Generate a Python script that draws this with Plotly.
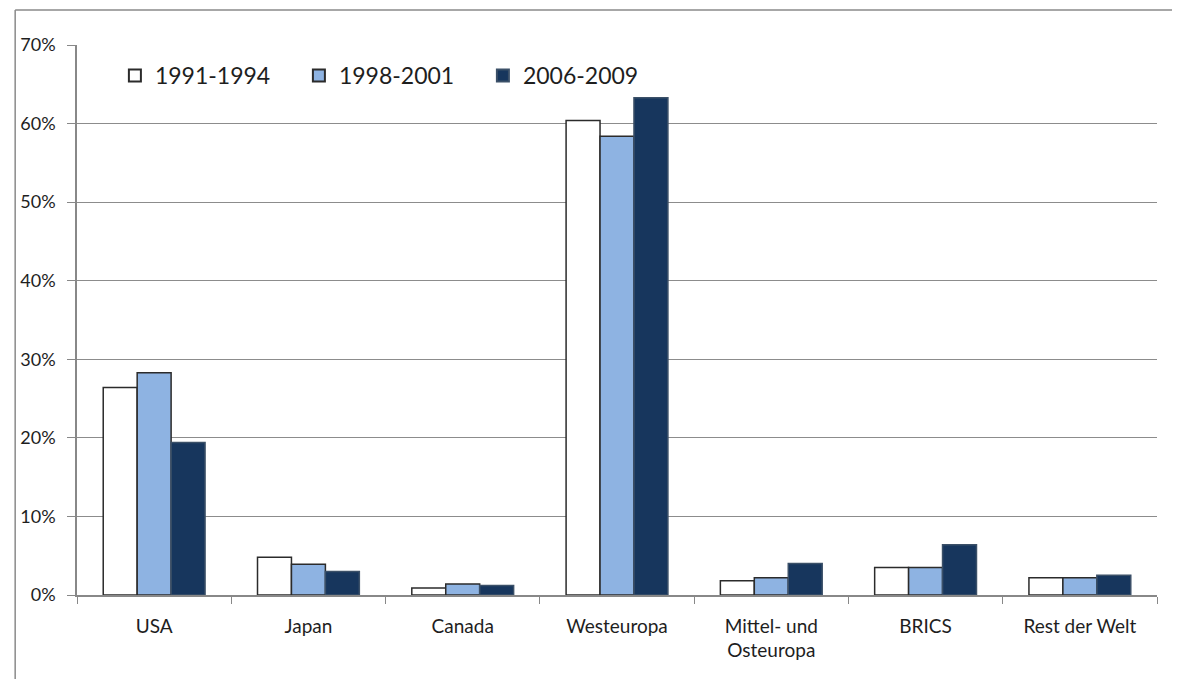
import plotly.graph_objects as go

categories = ["USA", "Japan", "Canada", "Westeuropa", "Mittel- und<br>Osteuropa", "BRICS", "Rest der Welt"]
series_names = ["1991-1994", "1998-2001", "2006-2009"]
v_1991 = [0.264, 0.048, 0.009, 0.604, 0.018, 0.035, 0.022]
v_1998 = [0.283, 0.039, 0.014, 0.584, 0.022, 0.035, 0.022]
v_2006 = [0.194, 0.030, 0.012, 0.633, 0.040, 0.064, 0.025]
y_ticks = [0, 0.1, 0.2, 0.3, 0.4, 0.5, 0.6, 0.7]

fills = ["#FFFFFF", "#8EB3E2", "#17365D"]
lines = ["#2b2b2b", "#2b2b2b", "#3b5068"]

fig = go.Figure()
for name, vals, fc, lc in zip(series_names, [v_1991, v_1998, v_2006], fills, lines):
    fig.add_trace(go.Bar(x=categories, y=vals, name=name,
                         marker=dict(color=fc, line=dict(color=lc, width=1.5))))

# page body has an 8px margin on every side; keep the figure inside the window
OFF = 8
W, H = 1180 - 2 * OFF, 687 - 2 * OFF
L, T = 74 - OFF, 45 - OFF
R = W - (1157 - OFF)
B = H - (595 - OFF)
pw, ph = W - L - R, H - T - B

def px(x):
    return (x - OFF - L) / pw

def py(y):
    return (H - B - (y - OFF)) / ph

fig.update_layout(
    width=W, height=H,
    margin=dict(l=L, r=R, t=T, b=B),
    paper_bgcolor="white", plot_bgcolor="white",
    barmode="group", bargap=0.34, bargroupgap=0,
    font=dict(family="Lato, Liberation Sans, sans-serif", size=19, color="#1e1e1e"),
    legend=dict(orientation="h", x=px(112), y=py(54), xanchor="left", yanchor="top",
                font=dict(size=23, color="#1e1e1e"), entrywidth=139, traceorder="normal",
                bgcolor="rgba(0,0,0,0)", itemsizing="constant"),
    xaxis=dict(type="category", showgrid=False, showline=True, linecolor="#888888", linewidth=1.5,
               ticks="outside", tickson="boundaries", ticklen=7, tickcolor="#888888",
               tickfont=dict(size=19), ticklabelstandoff=13),
    yaxis=dict(range=[0, 0.7], tickvals=y_ticks, tickformat=".0%", showgrid=True,
               gridcolor="#8c8c8c", gridwidth=1, showline=True, linecolor="#888888", linewidth=1.5,
               ticks="outside", ticklen=8, tickcolor="#888888", tickfont=dict(size=18),
               ticklabelstandoff=8, zeroline=False),
    shapes=[
        dict(type="line", xref="paper", yref="paper", x0=px(12), x1=px(1180), y0=py(10), y1=py(10),
             line=dict(color="#8a8a8a", width=1.5)),
        dict(type="line", xref="paper", yref="paper", x0=px(12), x1=px(12), y0=py(10), y1=py(687),
             line=dict(color="#8a8a8a", width=1.5)),
    ],
)

fig.write_html("out.html")
